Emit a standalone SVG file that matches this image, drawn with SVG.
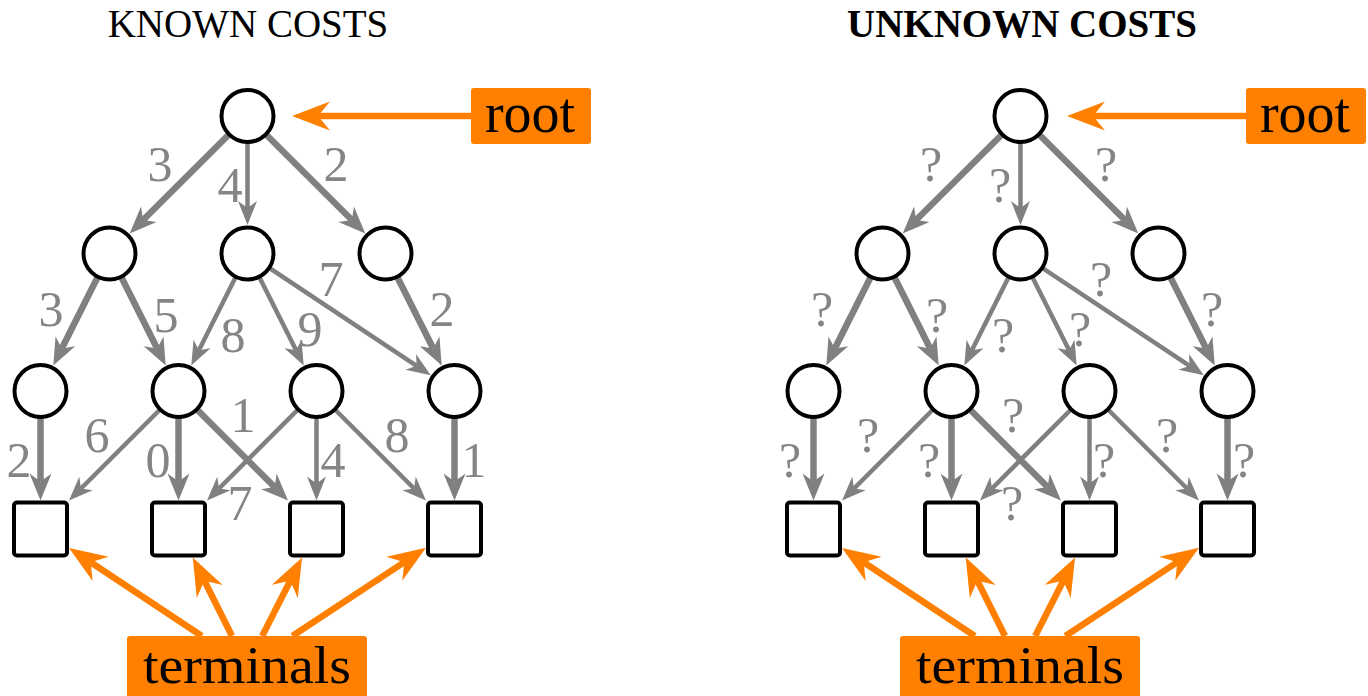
<svg xmlns="http://www.w3.org/2000/svg" width="1368" height="696" viewBox="0 0 1368 696">
<style>
.bg{fill:#ffffff}
.title{font-family:"Liberation Serif",serif;font-size:39px;fill:#000;text-anchor:middle}
.node{fill:#ffffff;stroke:#000;stroke-width:4}
.e{stroke:#808080;fill:none;stroke-linecap:butt}
.thin{stroke-width:4.5;marker-end:url(#ahThin)}
.thick{stroke-width:6.5;marker-end:url(#ahThick)}
.lab{font-family:"Liberation Serif",serif;font-size:50px;fill:#858585;text-anchor:middle}
.obox{fill:#ff8000;stroke:none}
.otxt{font-family:"Liberation Serif",serif;font-size:56px;fill:#000;text-anchor:middle}
.ttxt{font-family:"Liberation Serif",serif;font-size:52px;fill:#000;text-anchor:middle}
.oarr{stroke:#ff8000;stroke-width:6.5;fill:none;marker-end:url(#ahOrange)}
</style>
<defs>
<marker id="ahThin" markerUnits="userSpaceOnUse" orient="auto" viewBox="-10 -12 30 24" markerWidth="30" markerHeight="24" refX="0" refY="0" overflow="visible">
<path d="M17,0 L-7,-9.5 L0,0 L-7,9.5 Z" fill="#808080"/>
</marker>
<marker id="ahThick" markerUnits="userSpaceOnUse" orient="auto" viewBox="-10 -13 32 26" markerWidth="32" markerHeight="26" refX="0" refY="0" overflow="visible">
<path d="M19,0 L-8,-11 L0,0 L-8,11 Z" fill="#808080"/>
</marker>
<marker id="ahOrange" markerUnits="userSpaceOnUse" orient="auto" viewBox="-14 -16 42 32" markerWidth="42" markerHeight="32" refX="0" refY="0" overflow="visible">
<path d="M26,0 L-12,-14.5 L0,0 L-12,14.5 Z" fill="#ff8000"/>
</marker>
</defs>
<rect class="bg" x="0" y="0" width="1368" height="696"/>

<g id="titles">
<text class="title" x="248" y="37">KNOWN COSTS</text>
<text class="title" x="1022" y="37" font-weight="bold">UNKNOWN COSTS</text>
</g>

<!-- LEFT TREE -->
<g id="left-tree">
<g id="connectors-left">
<line class="e thick" x1="247.5" y1="116" x2="143.15" y2="219.97"/>
<line class="e thin" x1="247.5" y1="116" x2="247.5" y2="208"/>
<line class="e thick" x1="247.5" y1="116" x2="351.85" y2="219.97"/>
<line class="e thick" x1="109.5" y1="253.5" x2="61.8" y2="348.55"/>
<line class="e thick" x1="109.5" y1="253.5" x2="157.2" y2="348.55"/>
<line class="e thin" x1="247.5" y1="253.5" x2="198.9" y2="350.34"/>
<line class="e thin" x1="247.5" y1="253.5" x2="296.1" y2="350.34"/>
<line class="e thin" x1="247.5" y1="253.5" x2="416.6" y2="365.82"/>
<line class="e thick" x1="385.5" y1="253.5" x2="433.2" y2="348.55"/>
<line class="e thick" x1="40.5" y1="391" x2="40.5" y2="481.5"/>
<line class="e thin" x1="178.5" y1="391" x2="81.02" y2="488.48"/>
<line class="e thick" x1="178.5" y1="391" x2="178.5" y2="481.5"/>
<line class="e thick" x1="178.5" y1="391" x2="274.57" y2="487.07"/>
<line class="e thin" x1="316.5" y1="391" x2="219.02" y2="488.48"/>
<line class="e thin" x1="316.5" y1="391" x2="316.5" y2="483.5"/>
<line class="e thin" x1="316.5" y1="391" x2="413.98" y2="488.48"/>
<line class="e thick" x1="454.5" y1="391" x2="454.5" y2="481.5"/>
<line class="oarr" x1="471" y1="116" x2="318" y2="116"/>
<line class="oarr" x1="201.8" y1="636" x2="90.67" y2="562.28"/>
<line class="oarr" x1="232" y1="636" x2="204.38" y2="580.75"/>
<line class="oarr" x1="262.2" y1="636" x2="290.27" y2="580.69"/>
<line class="oarr" x1="292.4" y1="636" x2="404.3" y2="562.13"/>
</g>
<g id="labels-left">
<text class="lab" x="160" y="181">3</text>
<text class="lab" x="230" y="202">4</text>
<text class="lab" x="336" y="181">2</text>
<text class="lab" x="51" y="326">3</text>
<text class="lab" x="166" y="332">5</text>
<text class="lab" x="233" y="352">8</text>
<text class="lab" x="310" y="346">9</text>
<text class="lab" x="331" y="296">7</text>
<text class="lab" x="442" y="326">2</text>
<text class="lab" x="97" y="452">6</text>
<text class="lab" x="19" y="477">2</text>
<text class="lab" x="158" y="477">0</text>
<text class="lab" x="243" y="432">1</text>
<text class="lab" x="333" y="477">4</text>
<text class="lab" x="397" y="452">8</text>
<text class="lab" x="474" y="477">1</text>
<text class="lab" x="240" y="520">7</text>
</g>
<g id="L-root"><circle class="node" cx="247.5" cy="116" r="26"/></g>
<g id="L-a"><circle class="node" cx="109.5" cy="253.5" r="26"/></g>
<g id="L-b"><circle class="node" cx="247.5" cy="253.5" r="26"/></g>
<g id="L-c"><circle class="node" cx="385.5" cy="253.5" r="26"/></g>
<g id="L-d"><circle class="node" cx="40.5" cy="391" r="26"/></g>
<g id="L-e"><circle class="node" cx="178.5" cy="391" r="26"/></g>
<g id="L-f"><circle class="node" cx="316.5" cy="391" r="26"/></g>
<g id="L-g"><circle class="node" cx="454.5" cy="391" r="26"/></g>
<g id="L-t1"><rect class="node" x="14" y="502.5" width="53" height="53" rx="3"/></g>
<g id="L-t2"><rect class="node" x="152" y="502.5" width="53" height="53" rx="3"/></g>
<g id="L-t3"><rect class="node" x="290" y="502.5" width="53" height="53" rx="3"/></g>
<g id="L-t4"><rect class="node" x="428" y="502.5" width="53" height="53" rx="3"/></g>
<g id="L-root-tag"><rect class="obox" x="471" y="88" width="120" height="56" rx="3"/><text class="otxt" x="530" y="132">root</text></g>
<g id="L-terminals-tag"><rect class="obox" x="127" y="636" width="240" height="62" rx="3"/><text class="ttxt" x="247" y="683" textLength="208" lengthAdjust="spacingAndGlyphs">terminals</text></g>
</g>

<!-- RIGHT TREE -->
<g id="right-tree" transform="translate(773,0)">
<g id="connectors-right">
<line class="e thick" x1="247.5" y1="116" x2="143.15" y2="219.97"/>
<line class="e thin" x1="247.5" y1="116" x2="247.5" y2="208"/>
<line class="e thick" x1="247.5" y1="116" x2="351.85" y2="219.97"/>
<line class="e thick" x1="109.5" y1="253.5" x2="61.8" y2="348.55"/>
<line class="e thick" x1="109.5" y1="253.5" x2="157.2" y2="348.55"/>
<line class="e thin" x1="247.5" y1="253.5" x2="198.9" y2="350.34"/>
<line class="e thin" x1="247.5" y1="253.5" x2="296.1" y2="350.34"/>
<line class="e thin" x1="247.5" y1="253.5" x2="416.6" y2="365.82"/>
<line class="e thick" x1="385.5" y1="253.5" x2="433.2" y2="348.55"/>
<line class="e thick" x1="40.5" y1="391" x2="40.5" y2="481.5"/>
<line class="e thin" x1="178.5" y1="391" x2="81.02" y2="488.48"/>
<line class="e thick" x1="178.5" y1="391" x2="178.5" y2="481.5"/>
<line class="e thick" x1="178.5" y1="391" x2="274.57" y2="487.07"/>
<line class="e thin" x1="316.5" y1="391" x2="219.02" y2="488.48"/>
<line class="e thin" x1="316.5" y1="391" x2="316.5" y2="483.5"/>
<line class="e thin" x1="316.5" y1="391" x2="413.98" y2="488.48"/>
<line class="e thick" x1="454.5" y1="391" x2="454.5" y2="481.5"/>
<line class="oarr" x1="473" y1="116" x2="320" y2="116"/>
<line class="oarr" x1="201.8" y1="636" x2="90.67" y2="562.28"/>
<line class="oarr" x1="232" y1="636" x2="204.38" y2="580.75"/>
<line class="oarr" x1="262.2" y1="636" x2="290.27" y2="580.69"/>
<line class="oarr" x1="292.4" y1="636" x2="404.3" y2="562.13"/>
</g>
<g id="labels-right">
<text class="lab" x="158" y="181">?</text>
<text class="lab" x="227" y="202">?</text>
<text class="lab" x="333" y="181">?</text>
<text class="lab" x="49" y="326">?</text>
<text class="lab" x="164" y="332">?</text>
<text class="lab" x="230" y="352">?</text>
<text class="lab" x="307" y="346">?</text>
<text class="lab" x="328" y="296">?</text>
<text class="lab" x="439" y="326">?</text>
<text class="lab" x="95" y="452">?</text>
<text class="lab" x="17" y="477">?</text>
<text class="lab" x="156" y="477">?</text>
<text class="lab" x="240" y="432">?</text>
<text class="lab" x="331" y="477">?</text>
<text class="lab" x="394" y="452">?</text>
<text class="lab" x="471" y="477">?</text>
<text class="lab" x="239" y="520">?</text>
</g>
<g id="R-root"><circle class="node" cx="247.5" cy="116" r="26"/></g>
<g id="R-a"><circle class="node" cx="109.5" cy="253.5" r="26"/></g>
<g id="R-b"><circle class="node" cx="247.5" cy="253.5" r="26"/></g>
<g id="R-c"><circle class="node" cx="385.5" cy="253.5" r="26"/></g>
<g id="R-d"><circle class="node" cx="40.5" cy="391" r="26"/></g>
<g id="R-e"><circle class="node" cx="178.5" cy="391" r="26"/></g>
<g id="R-f"><circle class="node" cx="316.5" cy="391" r="26"/></g>
<g id="R-g"><circle class="node" cx="454.5" cy="391" r="26"/></g>
<g id="R-t1"><rect class="node" x="14" y="502.5" width="53" height="53" rx="3"/></g>
<g id="R-t2"><rect class="node" x="152" y="502.5" width="53" height="53" rx="3"/></g>
<g id="R-t3"><rect class="node" x="290" y="502.5" width="53" height="53" rx="3"/></g>
<g id="R-t4"><rect class="node" x="428" y="502.5" width="53" height="53" rx="3"/></g>
<g id="R-root-tag"><rect class="obox" x="473" y="88" width="120" height="56" rx="3"/><text class="otxt" x="532" y="132">root</text></g>
<g id="R-terminals-tag"><rect class="obox" x="127" y="636" width="240" height="62" rx="3"/><text class="ttxt" x="247" y="683" textLength="208" lengthAdjust="spacingAndGlyphs">terminals</text></g>
</g>
</svg>
